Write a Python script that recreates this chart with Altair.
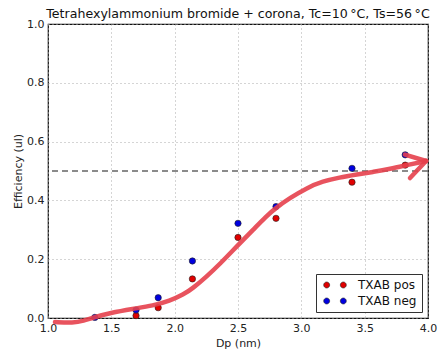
import altair as alt
import pandas as pd

# Measured points
dp = [1.37, 1.695, 1.87, 2.14, 2.50, 2.80, 3.40, 3.82]
eff_pos = [None, 0.008, 0.035, 0.133, 0.274, 0.339, 0.462, 0.52]
eff_neg = [0.002, 0.027, 0.069, 0.194, 0.322, 0.379, 0.509, 0.555]

# Hand-drawn red trend curve with arrow
curve_x = [1.055, 1.2, 1.28, 1.36, 1.49, 1.67, 1.83, 1.96, 2.07, 2.14, 2.25, 2.36,
           2.5, 2.62, 2.72, 2.8, 2.91, 3.045, 3.17, 3.3, 3.44, 3.57, 3.7, 3.834, 3.985]
curve_y = [-0.014, -0.017, -0.010, 0.002, 0.017, 0.031, 0.042, 0.058, 0.08, 0.10, 0.14, 0.185,
           0.248, 0.30, 0.345, 0.375, 0.408, 0.443, 0.465, 0.478, 0.488, 0.497, 0.507, 0.52, 0.534]
arm1_x = [3.818, 3.985]
arm1_y = [0.556, 0.534]
arm2_x = [3.858, 3.985]
arm2_y = [0.476, 0.534]

threshold = [0.5]

rows = []
for x, p, n in zip(dp, eff_pos, eff_neg):
    if p is not None:
        rows.append({"Dp": x, "eff": p, "series": "TXAB pos"})
    rows.append({"Dp": x, "eff": n, "series": "TXAB neg"})
pts = pd.DataFrame(rows)

crows = []
for i, (x, y) in enumerate(zip(curve_x, curve_y)):
    crows.append({"Dp": x, "eff": y, "seg": "curve", "o": i})
for i, (x, y) in enumerate(zip(arm1_x, arm1_y)):
    crows.append({"Dp": x, "eff": y, "seg": "arm1", "o": i})
for i, (x, y) in enumerate(zip(arm2_x, arm2_y)):
    crows.append({"Dp": x, "eff": y, "seg": "arm2", "o": i})
cdf = pd.DataFrame(crows)

xs = alt.Scale(domain=[1.0, 4.0], nice=False)
ys = alt.Scale(domain=[0.0, 1.0], nice=False)

xaxis = alt.Axis(title="Dp (nm)", values=[1.0, 1.5, 2.0, 2.5, 3.0, 3.5, 4.0], format=".1f")
yaxis = alt.Axis(title="Efficiency (ul)", values=[0.0, 0.2, 0.4, 0.6, 0.8, 1.0], format=".1f")

two_dots = ("M-2.72,0 A0.72,0.72 0 1,0 -1.28,0 A0.72,0.72 0 1,0 -2.72,0 Z "
            "M1.28,0 A0.72,0.72 0 1,0 2.72,0 A0.72,0.72 0 1,0 1.28,0 Z")

points = alt.Chart(pts).mark_point(filled=True, size=40, opacity=1, stroke="#202020", strokeWidth=0.6).encode(
    x=alt.X("Dp:Q", scale=xs, axis=xaxis),
    y=alt.Y("eff:Q", scale=ys, axis=yaxis),
    color=alt.Color("series:N",
                    scale=alt.Scale(domain=["TXAB pos", "TXAB neg"], range=["#e00000", "#0000e0"]),
                    legend=alt.Legend(title=None, orient="bottom-right", symbolType=two_dots)),
)

rule = alt.Chart(pd.DataFrame({"y": threshold})).mark_rule(
    color="#666666", strokeWidth=1.5, strokeDash=[6, 4]
).encode(y=alt.Y("y:Q", scale=ys))

curve = alt.Chart(cdf).mark_line(
    color="#e5404c", strokeWidth=4.5, opacity=0.9, strokeCap="round", strokeJoin="round",
    interpolate="basis", clip=False
).encode(
    x=alt.X("Dp:Q", scale=xs),
    y=alt.Y("eff:Q", scale=ys),
    detail="seg:N",
    order="o:Q",
)

chart = alt.layer(rule, points, curve).properties(
    width=380, height=294,
    title=alt.TitleParams("Tetrahexylammonium bromide + corona, Tc=10\u2009°C, Ts=56\u2009°C",
                          fontSize=12.6, fontWeight="normal", font="DejaVu Sans", color="#111", offset=-3),
    padding={"left": 48, "top": 24, "right": 10, "bottom": 31},
    autosize=alt.AutoSizeParams(type="none"),
).configure_view(
    stroke="#111", strokeWidth=1.2
).configure_axis(
    labelFont="DejaVu Sans", labelFontSize=11, labelColor="#222",
    titleFont="DejaVu Sans", titleFontSize=11, titleColor="#222", titleFontWeight="normal",
    grid=True, gridColor="#aaaaaa", gridDash=[1, 3], gridWidth=1,
    domain=False, ticks=False, labelPadding=4, labelFlush=False,
).configure_axisX(
    titlePadding=4
).configure_axisY(
    titlePadding=3
).configure_legend(
    strokeColor="#333", fillColor="white", padding=5, offset=6,
    labelFont="DejaVu Sans", labelFontSize=12, labelColor="#111",
    symbolSize=69, symbolStrokeWidth=0.6, rowPadding=4, cornerRadius=0,
    symbolOffset=8, labelOffset=17,
)

chart.save("out.html", embed_options={"renderer": "svg", "actions": False})
